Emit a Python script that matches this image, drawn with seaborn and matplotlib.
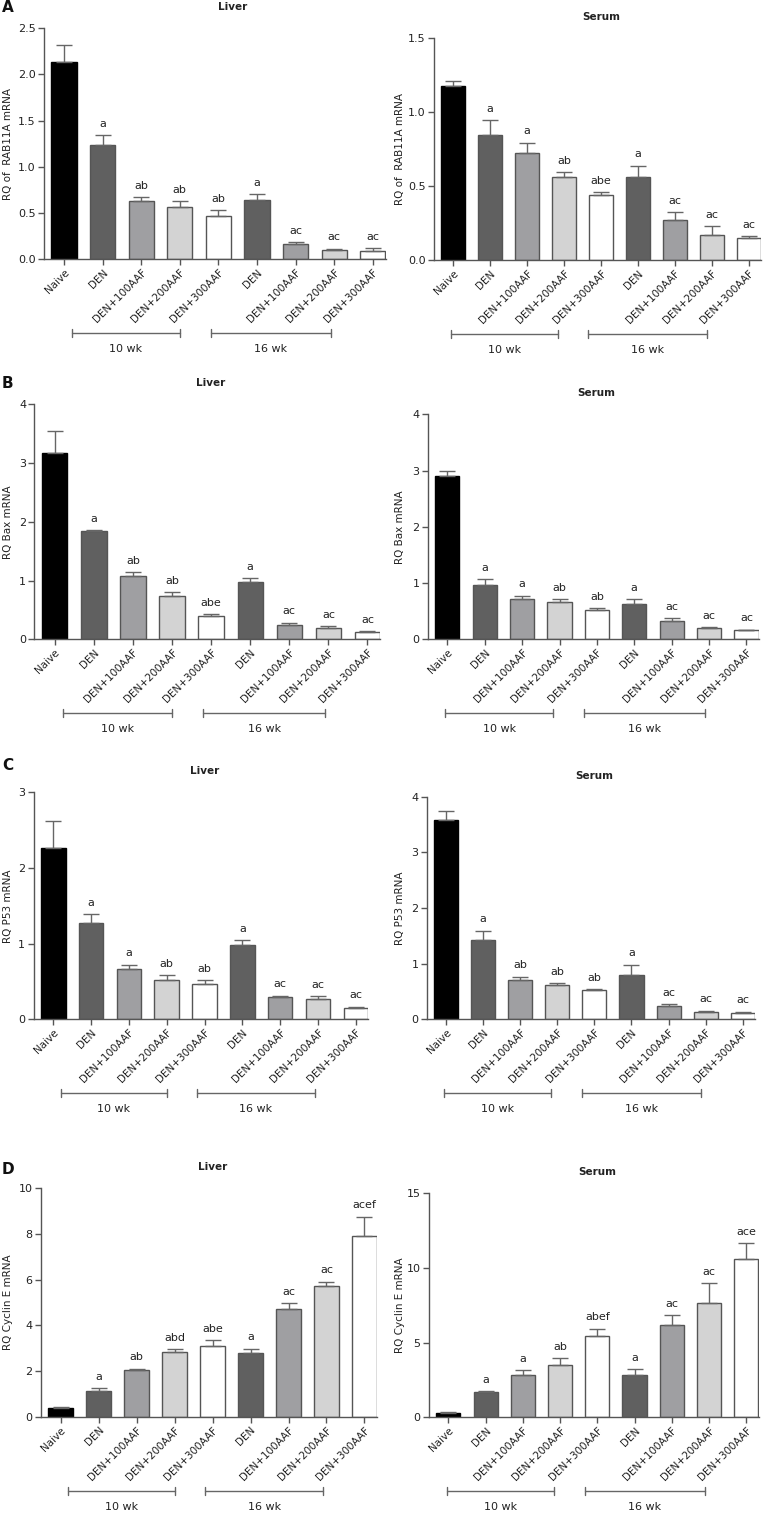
import numpy as np
import pandas as pd
import seaborn as sns
import matplotlib.pyplot as plt

sns.set_style("white")
plt.rcParams['font.family'] = ['DejaVu Sans']

groups = ["Naive", "DEN", "DEN+100AAF", "DEN+200AAF", "DEN+300AAF",
          "DEN", "DEN+100AAF", "DEN+200AAF", "DEN+300AAF"]
bar_colors = ["#000000", "#606060", "#9e9ea2", "#d3d3d3", "#ffffff",
              "#606060", "#9e9ea2", "#d3d3d3", "#ffffff"]
periods = ["10 wk", "16 wk"]

# RAB11A
rab_liver = [2.13, 1.24, 0.635, 0.563, 0.465, 0.639, 0.162, 0.101, 0.094]
rab_liver_err = [0.19, 0.10, 0.04, 0.065, 0.07, 0.064, 0.022, 0.014, 0.025]
rab_liver_sig = ["", "a", "ab", "ab", "ab", "a", "ac", "ac", "ac"]
rab_serum = [1.178, 0.848, 0.726, 0.559, 0.438, 0.564, 0.271, 0.167, 0.151]
rab_serum_err = [0.031, 0.097, 0.068, 0.034, 0.02, 0.074, 0.052, 0.061, 0.009]
rab_serum_sig = ["", "a", "a", "ab", "abe", "a", "ac", "ac", "ac"]

# Bax
bax_liver = [3.17, 1.84, 1.084, 0.73, 0.39, 0.98, 0.244, 0.199, 0.13]
bax_liver_err = [0.37, 0.02, 0.056, 0.07, 0.035, 0.06, 0.04, 0.021, 0.012]
bax_liver_sig = ["", "a", "ab", "ab", "abe", "a", "ac", "ac", "ac"]
bax_serum = [2.91, 0.96, 0.723, 0.664, 0.516, 0.622, 0.332, 0.196, 0.16]
bax_serum_err = [0.08, 0.11, 0.053, 0.047, 0.041, 0.089, 0.041, 0.017, 0.012]
bax_serum_sig = ["", "a", "a", "ab", "ab", "a", "ac", "ac", "ac"]

# P53
p53_liver = [2.27, 1.27, 0.66, 0.515, 0.47, 0.978, 0.29, 0.264, 0.145]
p53_liver_err = [0.355, 0.12, 0.06, 0.065, 0.045, 0.072, 0.023, 0.044, 0.022]
p53_liver_sig = ["", "a", "a", "ab", "ab", "a", "ac", "ac", "ac"]
p53_serum = [3.58, 1.42, 0.707, 0.623, 0.521, 0.796, 0.234, 0.138, 0.108]
p53_serum_err = [0.17, 0.17, 0.059, 0.024, 0.024, 0.186, 0.041, 0.018, 0.03]
p53_serum_sig = ["", "a", "ab", "ab", "ab", "a", "ac", "ac", "ac"]

# Cyclin E
cyc_liver = [0.38, 1.14, 2.03, 2.82, 3.11, 2.77, 4.70, 5.71, 7.93]
cyc_liver_err = [0.04, 0.10, 0.07, 0.14, 0.23, 0.21, 0.28, 0.20, 0.83]
cyc_liver_sig = ["", "a", "ab", "abd", "abe", "a", "ac", "ac", "acef"]
cyc_serum = [0.27, 1.67, 2.81, 3.50, 5.45, 2.81, 6.18, 7.68, 10.58]
cyc_serum_err = [0.11, 0.07, 0.36, 0.45, 0.49, 0.40, 0.65, 1.29, 1.07]
cyc_serum_sig = ["", "a", "a", "ab", "abef", "a", "ac", "ac", "ace"]

W, H = 764, 1519
fig = plt.figure(figsize=(W / 100, H / 100), dpi=100)

# (left, right, top, bottom) in pixels, title x fraction, ylabel x px
panels = [
    (rab_liver, rab_liver_err, rab_liver_sig, "Liver", "RQ of  RAB11A mRNA",
     [0, 0.5, 1.0, 1.5, 2.0, 2.5], "{:.1f}", (43.9, 385.6, 28.3, 259.3), 0.553, 13),
    (rab_serum, rab_serum_err, rab_serum_sig, "Serum", "RQ of  RAB11A mRNA",
     [0, 0.5, 1.0, 1.5], "{:.1f}", (434, 761, 38.3, 260), 0.51, 405),
    (bax_liver, bax_liver_err, bax_liver_sig, "Liver", "RQ Bax mRNA",
     [0, 1, 2, 3, 4], "{:.0f}", (34.4, 380.4, 404.3, 639.3), 0.51, 13),
    (bax_serum, bax_serum_err, bax_serum_sig, "Serum", "RQ Bax mRNA",
     [0, 1, 2, 3, 4], "{:.0f}", (427.9, 758.8, 414.3, 639.3), 0.51, 405),
    (p53_liver, p53_liver_err, p53_liver_sig, "Liver", "RQ P53 mRNA",
     [0, 1, 2, 3], "{:.0f}", (33.6, 368.3, 792.3, 1019.3), 0.51, 13),
    (p53_serum, p53_serum_err, p53_serum_sig, "Serum", "RQ P53 mRNA",
     [0, 1, 2, 3, 4], "{:.0f}", (426.7, 755, 796.7, 1019.3), 0.51, 405),
    (cyc_liver, cyc_liver_err, cyc_liver_sig, "Liver", "RQ Cyclin E mRNA",
     [0, 2, 4, 6, 8, 10], "{:.0f}", (40.9, 377, 1188.3, 1416.7), 0.51, 13),
    (cyc_serum, cyc_serum_err, cyc_serum_sig, "Serum", "RQ Cyclin E mRNA",
     [0, 5, 10, 15], "{:.0f}", (429, 758.6, 1193.3, 1417.3), 0.51, 405),
]

axis_col = "#555555"

for k, (mean, err, sig, title, ylab, yt, fmt, box, tx, lx) in enumerate(panels):
    l, r, t, b = box
    w, h = r - l, b - t
    ax = fig.add_axes([l / W, 1 - b / H, w / W, h / H])
    df = pd.DataFrame({"key": [f"g{i}" for i in range(9)], "val": mean})
    sns.barplot(data=df, x="key", y="val", hue="key", palette=bar_colors,
                legend=False, width=0.65, linewidth=1, ax=ax)
    for i, p in enumerate(ax.patches):
        p.set_edgecolor("#000000" if i == 0 else "#555555")
    ax.errorbar(range(9), mean, yerr=[np.zeros(9), err], fmt="none",
                ecolor="#666666", elinewidth=1, capsize=5.5, capthick=1, zorder=1)
    for i, s in enumerate(sig):
        if s:
            ax.annotate(s, (i, mean[i] + err[i]), xytext=(0, 6),
                        textcoords="offset points", ha="center", va="baseline",
                        fontsize=8, color="#222222")
    ax.set_xlim(-0.52, 8.33)
    ax.set_ylim(0, yt[-1])
    ax.set_yticks(yt)
    ax.set_yticklabels([fmt.format(v) for v in yt], fontsize=8, color="#222222")
    ax.set_xticks(range(9))
    ax.set_xticklabels(groups, rotation=45, ha="right", rotation_mode="anchor",
                       fontsize=7.5, color="#222222")
    ax.set_xlabel("")
    ax.set_ylabel(ylab, fontsize=7.5, color="#222222")
    ax.yaxis.set_label_coords((lx - l) / w, 0.5)
    sns.despine(ax=ax)
    for sp in ["left", "bottom"]:
        ax.spines[sp].set_color(axis_col)
        ax.spines[sp].set_linewidth(1)
    ax.tick_params(axis="both", colors=axis_col, length=4, width=1,
                   direction="out", pad=2, bottom=True, left=True)
    ax.tick_params(axis="both", labelcolor="#222222")
    ax.text(tx, 1 + 21 / h, title, transform=ax.transAxes, ha="center",
            va="center", fontsize=7.5, fontweight="bold", color="#222222")

    # time-point brackets under the tick labels
    tr = ax.get_xaxis_transform()
    yb = -74 / h
    dy = 4 / h
    spans = [(0.2, 3.0), (3.8, 6.92)] if title == "Liver" else [(-0.05, 2.83), (3.66, 6.88)]
    for (x0, x1), lab in zip(spans, periods):
        ax.plot([x0, x1], [yb, yb], color="#666666", lw=1, transform=tr, clip_on=False)
        ax.plot([x0, x0], [yb - dy, yb + dy], color="#666666", lw=1, transform=tr, clip_on=False)
        ax.plot([x1, x1], [yb - dy, yb + dy], color="#666666", lw=1, transform=tr, clip_on=False)
        ax.text((x0 + x1) / 2, yb - 16 / h, lab, transform=tr, ha="center",
                va="center", fontsize=8, color="#222222")

for letter, y in zip("ABCD", [8, 384, 766, 1169]):
    fig.text(2 / W, 1 - y / H, letter, fontsize=11, fontweight="bold",
             ha="left", va="center", color="#111111")

fig.savefig("out.png", dpi=100)
